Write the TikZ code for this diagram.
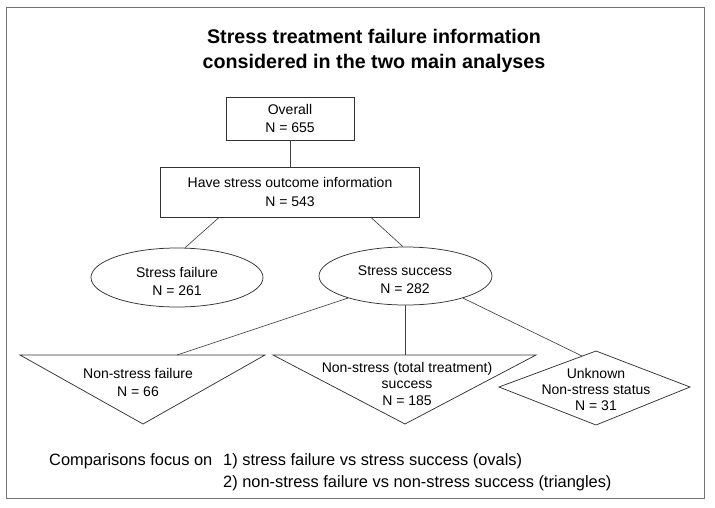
\documentclass[tikz,border=0pt]{standalone}
\usepackage{fontspec}
\setmainfont{Liberation Sans}
\usetikzlibrary{shapes.geometric,calc}
\begin{document}
\begin{tikzpicture}[x=1pt,y=-1pt,
  shapeline/.style={draw=black!80, line width=0.75pt},
  txt/.style={font=\fontsize{14}{18.5}\selectfont, align=center, inner sep=0pt},
  boxnode/.style={shapeline, rectangle, inner sep=0pt, txt},
  ovalnode/.style={shapeline, ellipse, inner sep=0pt},
  conn/.style={draw=black!75, line width=0.65pt},
  bottomtxt/.style={font=\fontsize{16.4}{20}\selectfont, inner sep=0pt, anchor=base west}]
\useasboundingbox (0,0) rectangle (715,507);
\draw[draw=black!55, line width=0.9pt] (6,7) rectangle (704,498);
\node[font=\bfseries\fontsize{19.7}{25}\selectfont, align=center, inner sep=0pt] (title) at (374,51) {Stress treatment failure information\\considered in the two main analyses};

\node[boxnode, minimum width=128pt, minimum height=43pt] (overall) at (290,118.5) {Overall\\N = 655};
\node[boxnode, minimum width=259pt, minimum height=50pt] (have) at (290,192) {Have stress outcome information\\N = 543};

\node[ovalnode, minimum width=172pt, minimum height=59pt] (sf) at (177,277.5) {};
\node[txt] (sftext) at (177,281.5) {Stress failure\\N = 261};
\node[ovalnode, minimum width=173pt, minimum height=58pt] (ss) at (405.5,276) {};
\node[txt] (sstext) at (405,279.5) {Stress success\\N = 282};

\coordinate (t1a) at (20,355);
\coordinate (t1b) at (265,355);
\coordinate (t1c) at (143,424);
\draw[shapeline] (t1a) -- (t1b) -- (t1c) -- cycle;
\node[txt] (t1text) at (138,382.5) {Non-stress failure\\N = 66};

\coordinate (t2a) at (273,355);
\coordinate (t2b) at (536,355);
\coordinate (t2c) at (405,424);
\draw[shapeline] (t2a) -- (t2b) -- (t2c) -- cycle;
\node[txt, font=\fontsize{14}{16.5}\selectfont] (t2text) at (407,383.5) {Non-stress (total treatment)\\success\\N = 185};

\coordinate (dl) at (499,387);
\coordinate (dt) at (596,351);
\coordinate (dr) at (690,387);
\coordinate (db) at (596,425);
\draw[shapeline] (dl) -- (dt) -- (dr) -- (db) -- cycle;
\node[txt, font=\fontsize{14}{16}\selectfont] (dtext) at (596,389) {Unknown\\Non-stress status\\N = 31};

\coordinate (t1in) at (177,355);
\coordinate (t2in) at (405.5,355);
\coordinate (dmin) at (582,356);

\draw[conn] (overall.south) -- (have.north);
\draw[conn] ($(have.south west)+(59,0)$) -- (sf.75);
\draw[conn] ($(have.south east)+(-49,0)$) -- (ss.95);
\draw[conn] (ss.201) -- (t1in);
\draw[conn] (ss.south) -- (t2in);
\draw[conn] (ss.339) -- (dmin);

\node[bottomtxt] (cmp) at (49,465.5) {Comparisons focus on};
\node[bottomtxt] (cmp1) at (223,465.5) {1) stress failure vs stress success (ovals)};
\node[bottomtxt] (cmp2) at (223,487.5) {2) non-stress failure vs non-stress success (triangles)};
\end{tikzpicture}
\end{document}
